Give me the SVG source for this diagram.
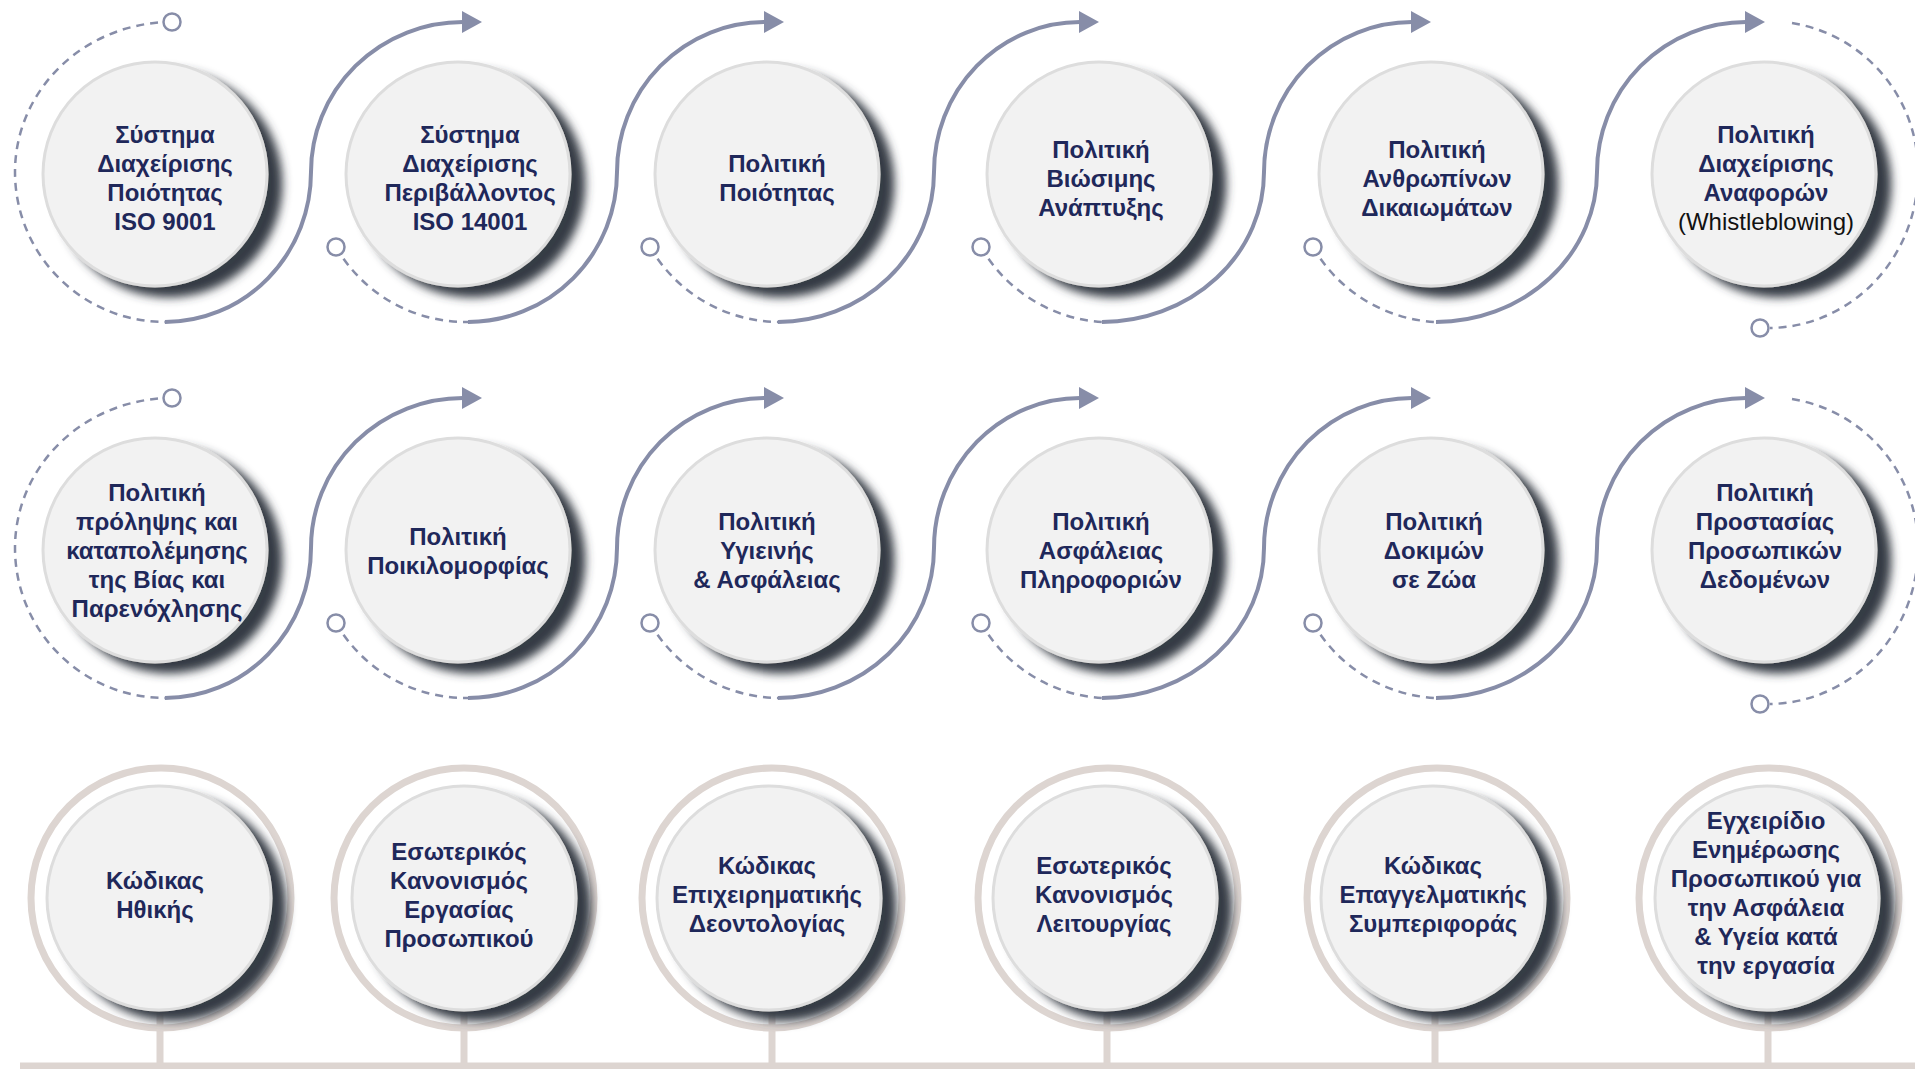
<svg xmlns="http://www.w3.org/2000/svg" width="1915" height="1069" viewBox="0 0 1915 1069">
<defs>
<filter id="sh" x="-20%" y="-20%" width="150%" height="150%">
<feGaussianBlur in="SourceAlpha" stdDeviation="5" result="b"/>
<feOffset in="b" dx="14" dy="10" result="o"/>
<feFlood flood-color="#363c45" flood-opacity="1"/>
<feComposite in2="o" operator="in" result="s"/>
<feMerge><feMergeNode in="s"/><feMergeNode in="SourceGraphic"/></feMerge>
</filter>
</defs>
<style>
.bub{fill:#f2f2f2;stroke:#dddddd;stroke-width:3;filter:url(#sh)}
.ring{fill:none;stroke:#ddd5d1;stroke-width:7}
.bar{stroke:#ddd5d1;stroke-width:7;fill:none}
.lbl{font-family:"Liberation Sans",Arial,sans-serif;font-weight:700;font-size:24px;fill:#1f285a;text-anchor:middle}
.reg{font-weight:400;fill:#111111}
.sol{fill:none;stroke:#878da8;stroke-width:4}
.das{fill:none;stroke:#878da8;stroke-width:2.5;stroke-dasharray:8 6}
.mk{fill:#ffffff;stroke:#878da8;stroke-width:2.5}
.ah{fill:#878da8}
</style>
<rect width="1915" height="1069" fill="#ffffff"/>

<g id="connectors">
<!-- row 1 -->
<path class="das" d="M 172 22 A 157 150 0 0 0 15 172 A 150 150 0 0 0 165 322"/>
<path class="das" d="M 336 247 A 150 150 0 0 0 468 322"/>
<path class="das" d="M 650 247 A 150 150 0 0 0 778 322"/>
<path class="das" d="M 981 247 A 150 150 0 0 0 1102 322"/>
<path class="das" d="M 1313 247 A 150 150 0 0 0 1436 322"/>
<path class="das" d="M 1792 23 A 150 150 0 0 1 1918 172 A 150 156 0 0 1 1770 328"/>
<path class="sol" d="M 165 322 A 146 150 0 0 0 311 172 A 152 150 0 0 1 463 22"/>
<path class="sol" d="M 468 322 A 149 150 0 0 0 617 172 A 148 150 0 0 1 765 22"/>
<path class="sol" d="M 778 322 A 156 150 0 0 0 934 172 A 146 150 0 0 1 1080 22"/>
<path class="sol" d="M 1102 322 A 162 150 0 0 0 1264 172 A 148 150 0 0 1 1412 22"/>
<path class="sol" d="M 1436 322 A 161 150 0 0 0 1597 172 A 149 150 0 0 1 1746 22"/>
<polygon class="ah" points="462,11 482,22 462,33"/>
<polygon class="ah" points="764,11 784,22 764,33"/>
<polygon class="ah" points="1079,11 1099,22 1079,33"/>
<polygon class="ah" points="1411,11 1431,22 1411,33"/>
<polygon class="ah" points="1745,11 1765,22 1745,33"/>
<circle class="mk" cx="172" cy="22" r="8.5"/>
<circle class="mk" cx="336" cy="247" r="8.5"/>
<circle class="mk" cx="650" cy="247" r="8.5"/>
<circle class="mk" cx="981" cy="247" r="8.5"/>
<circle class="mk" cx="1313" cy="247" r="8.5"/>
<circle class="mk" cx="1760" cy="328" r="8.5"/>
<!-- row 2 -->
<path class="das" d="M 172 398 A 157 150 0 0 0 15 548 A 150 150 0 0 0 165 698"/>
<path class="das" d="M 336 623 A 150 150 0 0 0 468 698"/>
<path class="das" d="M 650 623 A 150 150 0 0 0 778 698"/>
<path class="das" d="M 981 623 A 150 150 0 0 0 1102 698"/>
<path class="das" d="M 1313 623 A 150 150 0 0 0 1436 698"/>
<path class="das" d="M 1792 399 A 150 150 0 0 1 1918 548 A 150 156 0 0 1 1770 704"/>
<path class="sol" d="M 165 698 A 146 150 0 0 0 311 548 A 152 150 0 0 1 463 398"/>
<path class="sol" d="M 468 698 A 149 150 0 0 0 617 548 A 148 150 0 0 1 765 398"/>
<path class="sol" d="M 778 698 A 156 150 0 0 0 934 548 A 146 150 0 0 1 1080 398"/>
<path class="sol" d="M 1102 698 A 162 150 0 0 0 1264 548 A 148 150 0 0 1 1412 398"/>
<path class="sol" d="M 1436 698 A 161 150 0 0 0 1597 548 A 149 150 0 0 1 1746 398"/>
<polygon class="ah" points="462,387 482,398 462,409"/>
<polygon class="ah" points="764,387 784,398 764,409"/>
<polygon class="ah" points="1079,387 1099,398 1079,409"/>
<polygon class="ah" points="1411,387 1431,398 1411,409"/>
<polygon class="ah" points="1745,387 1765,398 1745,409"/>
<circle class="mk" cx="172" cy="398" r="8.5"/>
<circle class="mk" cx="336" cy="623" r="8.5"/>
<circle class="mk" cx="650" cy="623" r="8.5"/>
<circle class="mk" cx="981" cy="623" r="8.5"/>
<circle class="mk" cx="1313" cy="623" r="8.5"/>
<circle class="mk" cx="1760" cy="704" r="8.5"/>
<!-- row 3 bars -->
<line class="bar" x1="20" y1="1066" x2="1915" y2="1066"/>
<line class="bar" x1="160" y1="1005" x2="160" y2="1066"/>
<line class="bar" x1="464" y1="1005" x2="464" y2="1066"/>
<line class="bar" x1="772" y1="1005" x2="772" y2="1066"/>
<line class="bar" x1="1107" y1="1005" x2="1107" y2="1066"/>
<line class="bar" x1="1435" y1="1005" x2="1435" y2="1066"/>
<line class="bar" x1="1768" y1="1005" x2="1768" y2="1066"/>
</g>

<!-- Row 1 -->
<g id="n-iso9001">
<circle class="bub" cx="155" cy="174" r="112"/>
<text class="lbl"><tspan x="165" y="143">Σύστημα</tspan><tspan x="165" y="172">Διαχείρισης</tspan><tspan x="165" y="201">Ποιότητας</tspan><tspan x="165" y="230">ISO 9001</tspan></text>
</g>
<g id="n-iso14001">
<circle class="bub" cx="458" cy="174" r="112"/>
<text class="lbl"><tspan x="470" y="143">Σύστημα</tspan><tspan x="470" y="172">Διαχείρισης</tspan><tspan x="470" y="201">Περιβάλλοντος</tspan><tspan x="470" y="230">ISO 14001</tspan></text>
</g>
<g id="n-quality">
<circle class="bub" cx="767" cy="174" r="112"/>
<text class="lbl"><tspan x="777" y="172">Πολιτική</tspan><tspan x="777" y="201">Ποιότητας</tspan></text>
</g>
<g id="n-sustain">
<circle class="bub" cx="1099" cy="174" r="112"/>
<text class="lbl"><tspan x="1101" y="158">Πολιτική</tspan><tspan x="1101" y="187">Βιώσιμης</tspan><tspan x="1101" y="216">Ανάπτυξης</tspan></text>
</g>
<g id="n-human">
<circle class="bub" cx="1431" cy="174" r="112"/>
<text class="lbl"><tspan x="1437" y="158">Πολιτική</tspan><tspan x="1437" y="187">Ανθρωπίνων</tspan><tspan x="1437" y="216">Δικαιωμάτων</tspan></text>
</g>
<g id="n-whistle">
<circle class="bub" cx="1764" cy="174" r="112"/>
<text class="lbl"><tspan x="1766" y="143">Πολιτική</tspan><tspan x="1766" y="172">Διαχείρισης</tspan><tspan x="1766" y="201">Αναφορών</tspan><tspan class="reg" x="1766" y="230">(Whistleblowing)</tspan></text>
</g>

<!-- Row 2 -->
<g id="n-violence">
<circle class="bub" cx="155" cy="550" r="112"/>
<text class="lbl"><tspan x="157" y="501">Πολιτική</tspan><tspan x="157" y="530">πρόληψης και</tspan><tspan x="157" y="559">καταπολέμησης</tspan><tspan x="157" y="588">της Βίας και</tspan><tspan x="157" y="617">Παρενόχλησης</tspan></text>
</g>
<g id="n-diversity">
<circle class="bub" cx="458" cy="550" r="112"/>
<text class="lbl"><tspan x="458" y="545">Πολιτική</tspan><tspan x="458" y="574">Ποικιλομορφίας</tspan></text>
</g>
<g id="n-health">
<circle class="bub" cx="767" cy="550" r="112"/>
<text class="lbl"><tspan x="767" y="530">Πολιτική</tspan><tspan x="767" y="559">Υγιεινής</tspan><tspan x="767" y="588">&amp; Ασφάλειας</tspan></text>
</g>
<g id="n-infosec">
<circle class="bub" cx="1099" cy="550" r="112"/>
<text class="lbl"><tspan x="1101" y="530">Πολιτική</tspan><tspan x="1101" y="559">Ασφάλειας</tspan><tspan x="1101" y="588">Πληροφοριών</tspan></text>
</g>
<g id="n-animals">
<circle class="bub" cx="1431" cy="550" r="112"/>
<text class="lbl"><tspan x="1434" y="530">Πολιτική</tspan><tspan x="1434" y="559">Δοκιμών</tspan><tspan x="1434" y="588">σε Ζώα</tspan></text>
</g>
<g id="n-privacy">
<circle class="bub" cx="1764" cy="550" r="112"/>
<text class="lbl"><tspan x="1765" y="501">Πολιτική</tspan><tspan x="1765" y="530">Προστασίας</tspan><tspan x="1765" y="559">Προσωπικών</tspan><tspan x="1765" y="588">Δεδομένων</tspan></text>
</g>

<!-- Row 3 -->
<g id="n-ethics">
<circle class="ring" cx="161" cy="898" r="130"/>
<circle class="bub" cx="159" cy="898" r="112"/>
<text class="lbl"><tspan x="155" y="889">Κώδικας</tspan><tspan x="155" y="918">Ηθικής</tspan></text>
</g>
<g id="n-workreg">
<circle class="ring" cx="464" cy="898" r="130"/>
<circle class="bub" cx="464" cy="898" r="112"/>
<text class="lbl"><tspan x="459" y="860">Εσωτερικός</tspan><tspan x="459" y="889">Κανονισμός</tspan><tspan x="459" y="918">Εργασίας</tspan><tspan x="459" y="947">Προσωπικού</tspan></text>
</g>
<g id="n-bizcode">
<circle class="ring" cx="772" cy="898" r="130"/>
<circle class="bub" cx="769" cy="898" r="112"/>
<text class="lbl"><tspan x="767" y="874">Κώδικας</tspan><tspan x="767" y="903">Επιχειρηματικής</tspan><tspan x="767" y="932">Δεοντολογίας</tspan></text>
</g>
<g id="n-opreg">
<circle class="ring" cx="1108" cy="898" r="130"/>
<circle class="bub" cx="1105" cy="898" r="112"/>
<text class="lbl"><tspan x="1104" y="874">Εσωτερικός</tspan><tspan x="1104" y="903">Κανονισμός</tspan><tspan x="1104" y="932">Λειτουργίας</tspan></text>
</g>
<g id="n-profcode">
<circle class="ring" cx="1437" cy="898" r="130"/>
<circle class="bub" cx="1433" cy="898" r="112"/>
<text class="lbl"><tspan x="1433" y="874">Κώδικας</tspan><tspan x="1433" y="903">Επαγγελματικής</tspan><tspan x="1433" y="932">Συμπεριφοράς</tspan></text>
</g>
<g id="n-manual">
<circle class="ring" cx="1769" cy="898" r="130"/>
<circle class="bub" cx="1767" cy="898" r="112"/>
<text class="lbl"><tspan x="1766" y="829">Εγχειρίδιο</tspan><tspan x="1766" y="858">Ενημέρωσης</tspan><tspan x="1766" y="887">Προσωπικού για</tspan><tspan x="1766" y="916">την Ασφάλεια</tspan><tspan x="1766" y="945">&amp; Υγεία κατά</tspan><tspan x="1766" y="974">την εργασία</tspan></text>
</g>
</svg>
